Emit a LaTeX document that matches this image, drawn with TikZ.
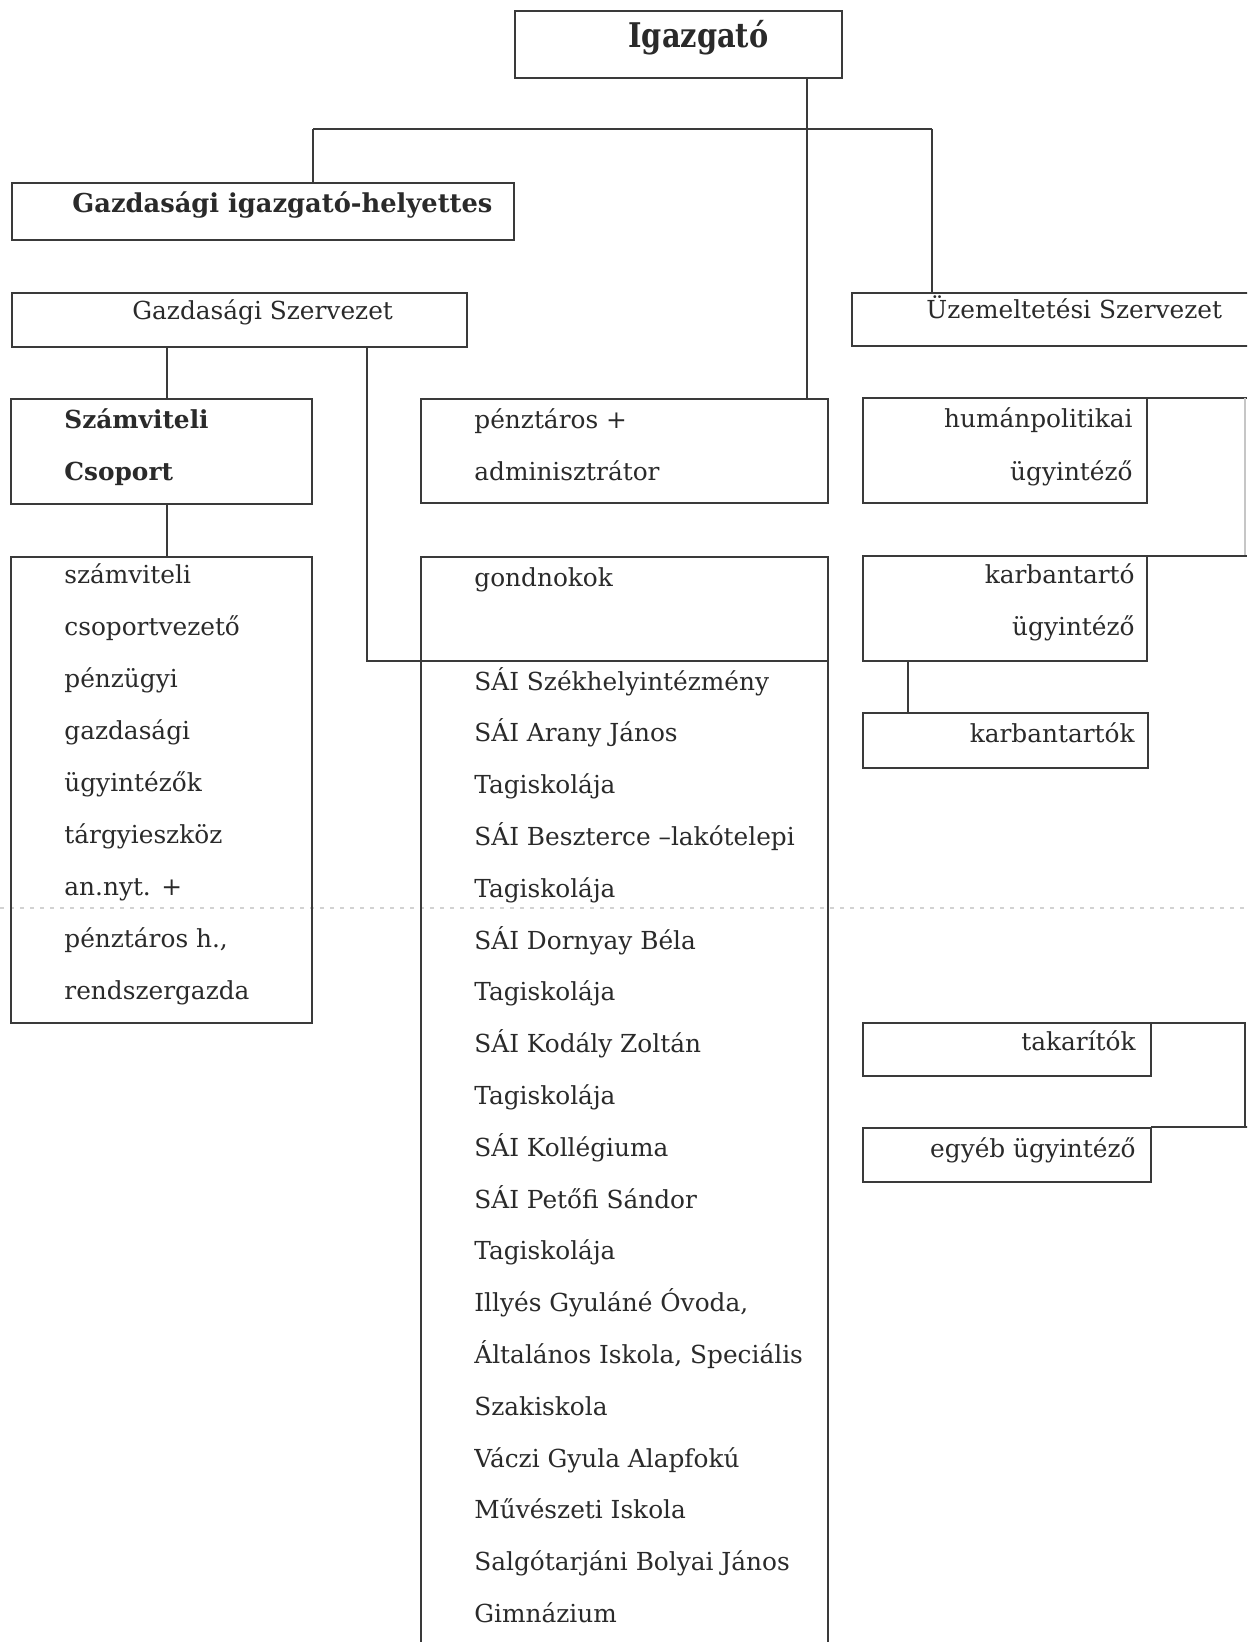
\documentclass[tikz,border=0pt]{standalone}
\usepackage{fontspec}
\usepackage{graphicx}
\setmainfont{DejaVu Serif}
\definecolor{ln}{HTML}{3A3A3A}
\definecolor{tx}{HTML}{2A2A2A}
\tikzset{
  box/.style={draw=ln, line width=0.75pt, anchor=north west, inner sep=0pt, outer sep=0pt},
  conn/.style={draw=ln, line width=0.75pt},
  lbl/.style={text=tx, inner sep=0pt, anchor=base west, font=\fontsize{12.4}{14}\selectfont},
  lblr/.style={lbl, anchor=base east},
  blbl/.style={lbl, font=\fontsize{12.4}{14}\selectfont\bfseries},
}
\begin{document}
\begin{tikzpicture}[x=0.5pt, y=-0.5pt]
\clip (0,0) rectangle (1247,1642);
\fill[white] (0,0) rectangle (1247,1642);
% scan fold line
\draw[gray!35, line width=0.6pt, dash pattern=on 2pt off 3pt] (0,908) -- (1247,908);

% boxes (sizes in pt = px/2)
\node[box, minimum width=163.5pt, minimum height=33.5pt] (igaz) at (515,11) {};
\node[box, minimum width=251pt, minimum height=28.5pt] (gih) at (12,183) {};
\node[box, minimum width=227.5pt, minimum height=27pt] (gsz) at (12,293) {};
\node[box, minimum width=210pt, minimum height=26.5pt] (uzem) at (852,293) {};
\node[box, minimum width=150.5pt, minimum height=52.5pt] (szcs) at (11,399) {};
\node[box, minimum width=150.5pt, minimum height=233pt] (szlist) at (11,557) {};
\node[box, minimum width=203.5pt, minimum height=52pt] (penz) at (421,399) {};
\node[box, minimum width=203.5pt, minimum height=52pt] (gond) at (421,557) {};
\node[box, minimum width=203.5pt, minimum height=510pt] (sai) at (421,661) {};
\node[box, minimum width=142pt, minimum height=52.5pt] (human) at (863,398) {};
\node[box, minimum width=142pt, minimum height=52.5pt] (karb) at (863,556) {};
\node[box, minimum width=142.5pt, minimum height=27.5pt] (karbk) at (863,713) {};
\node[box, minimum width=144pt, minimum height=26.5pt] (tak) at (863,1023) {};
\node[box, minimum width=144pt, minimum height=27pt] (egyeb) at (863,1128) {};

% connector helper coordinates
\coordinate (xI) at (807,0);
\coordinate (busL) at (313,129);
\coordinate (busR) at (932,129);
\coordinate (xA) at (167,0);
\coordinate (xB) at (367,0);
\coordinate (xK) at (908,0);
\coordinate (eH) at (1247,398);
\coordinate (eK) at (1247,556);
\coordinate (eT) at (1245,1023);
\coordinate (eE) at (1245,1127);
\coordinate (eHb) at (1245,556);

% connectors
\draw[conn] (igaz.south -| xI) -- (penz.north -| xI);
\draw[conn] (busL) -- (busR);
\draw[conn] (busL) -- (gih.north -| busL);
\draw[conn] (busR) -- (uzem.north -| busR);
\draw[conn] (gsz.south -| xA) -- (szcs.north -| xA);
\draw[conn] (szcs.south -| xA) -- (szlist.north -| xA);
\draw[conn] (gsz.south -| xB) |- (gond.south west);
\draw[conn] (karb.south -| xK) -- (karbk.north -| xK);
% off-page frames on the right
\draw[conn] (human.north east) -- (eH);
\draw[conn, draw=gray!45] (eH -| eT) -- (eHb);
\draw[conn] (karb.north east) -- (eK);
\draw[conn] (tak.north east) -- (tak.north east -| eT) -- (eE);
\draw[conn] (egyeb.north east |- eE) -- ([xshift=2pt]eE);

% texts
\node[lbl, font=\bfseries] (tIgaz) at (628,48) {\resizebox{70pt}{\height}{\fontsize{17}{20}\selectfont\bfseries Igazgató}};
\node[lbl] (tGih) at (72,213) {\resizebox{210pt}{\height}{\fontsize{13}{15}\selectfont\bfseries Gazdasági igazgató-helyettes}};
\node[lbl] (tGsz) at (132,320) {Gazdasági Szervezet};
\node[lbl] (tUzem) at (926,319) {Üzemeltetési Szervezet};
\node[blbl] (tSz1) at (64,428) {Számviteli};
\node[blbl] (tSz2) at (64,480) {Csoport};
\node[lbl] (tP1) at (474,428) {pénztáros +};
\node[lbl] (tP2) at (474,480) {adminisztrátor};
\node[lbl] (tG) at (474,586) {gondnokok};
\node[lblr] (tH1) at (1133,427) {humánpolitikai};
\node[lblr] (tH2) at (1133,480) {ügyintéző};
\node[lblr] (tK1) at (1135,583) {karbantartó};
\node[lblr] (tK2) at (1135,635) {ügyintéző};
\node[lblr] (tKk) at (1135,742) {karbantartók};
\node[lblr] (tT) at (1136,1050) {takarítók};
\node[lblr] (tE) at (1136,1157) {egyéb ügyintéző};

\foreach \t [count=\i from 0] in {számviteli, csoportvezető, pénzügyi, gazdasági, ügyintézők, tárgyieszköz, an.nyt. +, {pénztáros h.,}, rendszergazda}
  \node[lbl] (tL\i) at (64,583+\i*52) {\t};

\foreach \t [count=\i from 0] in {SÁI Székhelyintézmény, SÁI Arany János, Tagiskolája, SÁI Beszterce –lakótelepi, Tagiskolája, SÁI Dornyay Béla, Tagiskolája, SÁI Kodály Zoltán, Tagiskolája, SÁI Kollégiuma, SÁI Petőfi Sándor, Tagiskolája, {Illyés Gyuláné Óvoda,}, {Általános Iskola, Speciális}, Szakiskola, Váczi Gyula Alapfokú, Művészeti Iskola, Salgótarjáni Bolyai János, Gimnázium}
  \node[lbl] (tS\i) at (474,690+\i*51.8) {\t};
\end{tikzpicture}
\end{document}
